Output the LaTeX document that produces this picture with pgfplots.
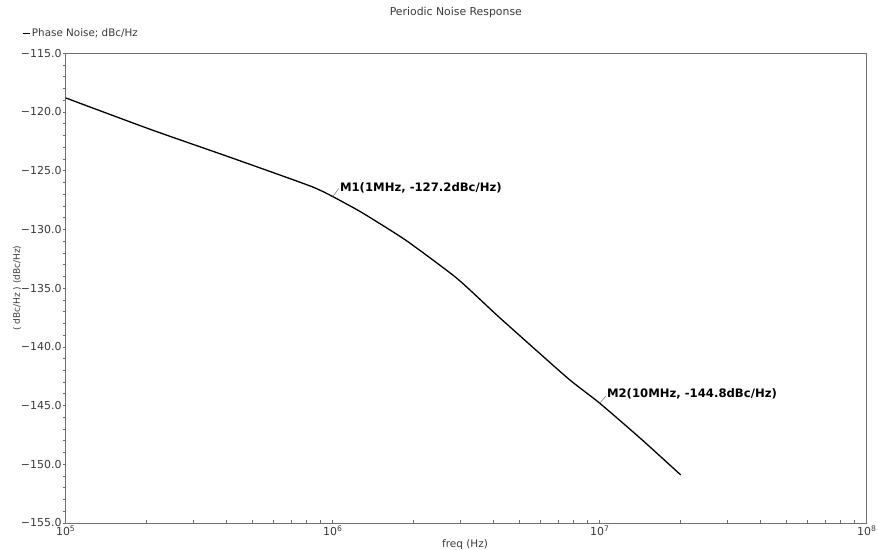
\documentclass[border=0pt]{standalone}
\usepackage{pgfplots}
\pgfplotsset{compat=1.18}
\usepackage{fontspec}
\setmainfont{DejaVu Sans}
\definecolor{axgray}{HTML}{707070}
\definecolor{txt}{HTML}{3A3A3A}
\begin{document}
\begin{tikzpicture}
\path[use as bounding box] (0bp,0bp) rectangle (878bp,550bp);
\begin{axis}[
  at={(65.7bp,27bp)}, anchor=south west,
  scale only axis, width=801bp, height=469.7bp,
  xmode=log, xmin=1e5, xmax=1e8, ymin=-155, ymax=-115,
  clip=false,
  axis line style={axgray, line width=0.9bp},
  tick align=outside,
  xtick pos=bottom, ytick pos=left,
  major tick length=3bp, minor tick length=3bp,
  every tick/.style={axgray, line width=0.7bp},
  every x tick/.append style={yshift=3bp},
  xtick={1e5,1e6,1e7,1e8},
  xticklabels={10\textsuperscript{5},10\textsuperscript{6},10\textsuperscript{7},10\textsuperscript{8}},
  ytick={-155,-150,-145,-140,-135,-130,-125,-120,-115},
  yticklabels={−155.0,−150.0,−145.0,−140.0,−135.0,−130.0,−125.0,−120.0,−115.0},
  minor y tick num=4,
  tick label style={font=\fontsize{11}{13}\selectfont, text=txt},
  yticklabel style={inner sep=1bp},
  xticklabel style={inner sep=1bp, yshift=1bp},
  legend style={at={(axis description cs:-0.0546,1.0432)}, anchor=west, draw=none, fill=none,
    font=\fontsize{10.4}{12}\selectfont, text=txt, inner sep=0pt, legend cell align=left},
  legend image code/.code={\draw[#1, line width=0.8bp] (0bp,0bp) -- (7bp,0bp);},
]
\addplot[black, line width=1.3bp, smooth, tension=0.4] coordinates {
(1e5,-118.8) (2.07e5,-121.47) (3.9e5,-123.66) (6.0e5,-125.17) (8.47e5,-126.41)
(1e6,-127.2) (1.27e6,-128.49) (1.64e6,-130.05) (1.95e6,-131.18) (2.92e6,-134.17)
(4.12e6,-137.3) (5.82e6,-140.35) (7.76e6,-142.85) (1e7,-144.8) (1.42e7,-147.79)
(2.01e7,-150.9)
};
\addlegendentry{Phase Noise; dBc/Hz}
\draw[gray, line width=0.6bp] (axis cs:1e6,-127.2) -- ++(6bp,8bp)
  node[anchor=west, inner sep=1bp, font=\bfseries\fontsize{11.7}{13}\selectfont, text=black, yshift=1bp] {M1(1MHz, -127.2dBc/Hz)};
\draw[gray, line width=0.6bp] (axis cs:1e7,-144.8) -- ++(6bp,7bp)
  node[anchor=west, inner sep=1bp, font=\bfseries\fontsize{11.7}{13}\selectfont, text=black, yshift=2bp] {M2(10MHz, -144.8dBc/Hz)};
\node[font=\fontsize{10.9}{12}\selectfont, text=txt] at (axis description cs:0.487,1.0858) {Periodic Noise Response};
\node[font=\fontsize{10.5}{12}\selectfont, text=txt] at (axis description cs:0.4985,-0.0455) {freq (Hz)};
\node[rotate=90, font=\fontsize{9}{11}\selectfont, text=txt] at (axis description cs:-0.0608,0.50) {( dBc/Hz ) (dBc/Hz)};
\end{axis}
\end{tikzpicture}
\end{document}
